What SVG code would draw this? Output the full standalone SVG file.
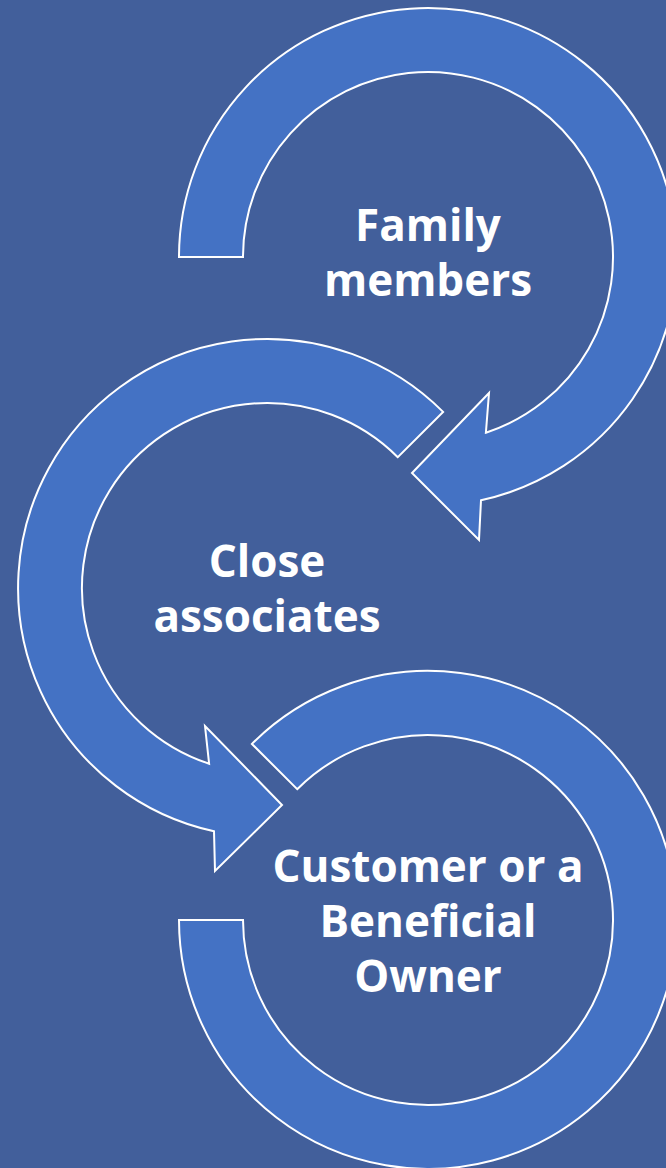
<svg xmlns="http://www.w3.org/2000/svg" width="666" height="1168" viewBox="0 0 666 1168">
  <style>
    .bg { fill: #425F9B; }
    .ring { fill: #4472C4; stroke: #FFFFFF; stroke-width: 2; stroke-linejoin: miter; }
    .label { fill: #FFFFFF; font-family: "Open Sans", "Liberation Sans", sans-serif; font-weight: 700; font-size: 44px; text-anchor: middle; }
  </style>
  <rect class="bg" x="0" y="0" width="666" height="1168"/>

  <!-- Step 1: ring centred at (428,257), turning clockwise into an arrowhead -->
  <g id="node-family-members">
    <path class="ring" d="M 179,257 A 249 249 0 1 1 481,500.3 L 479,540 L 412,473 L 489,393 L 485.9,432.7 A 185 185 0 1 0 243,257 Z"/>
    <text class="label" x="428" y="241">Family</text>
    <text class="label" x="428" y="296">members</text>
  </g>

  <!-- Step 2: ring centred at (267,588), turning counter-clockwise -->
  <g id="node-close-associates">
    <path class="ring" d="M 443.1,411.9 A 249 249 0 1 0 214,831.3 L 215,871 L 282,805 L 205,726 L 209.1,763.7 A 185 185 0 1 1 397.8,457.2 Z"/>
    <text class="label" x="267" y="577">Close</text>
    <text class="label" x="267" y="632">associates</text>
  </g>

  <!-- Step 3: open ring centred at (428,920) -->
  <g id="node-customer-owner">
    <path class="ring" d="M 251.9,743.9 A 249 249 0 1 1 179,920 L 243,920 A 185 185 0 1 0 297.2,789.2 Z"/>
    <text class="label" x="428" y="882">Customer or a</text>
    <text class="label" x="428" y="937">Beneficial</text>
    <text class="label" x="428" y="992">Owner</text>
  </g>

  <g id="connectors"></g>
</svg>
